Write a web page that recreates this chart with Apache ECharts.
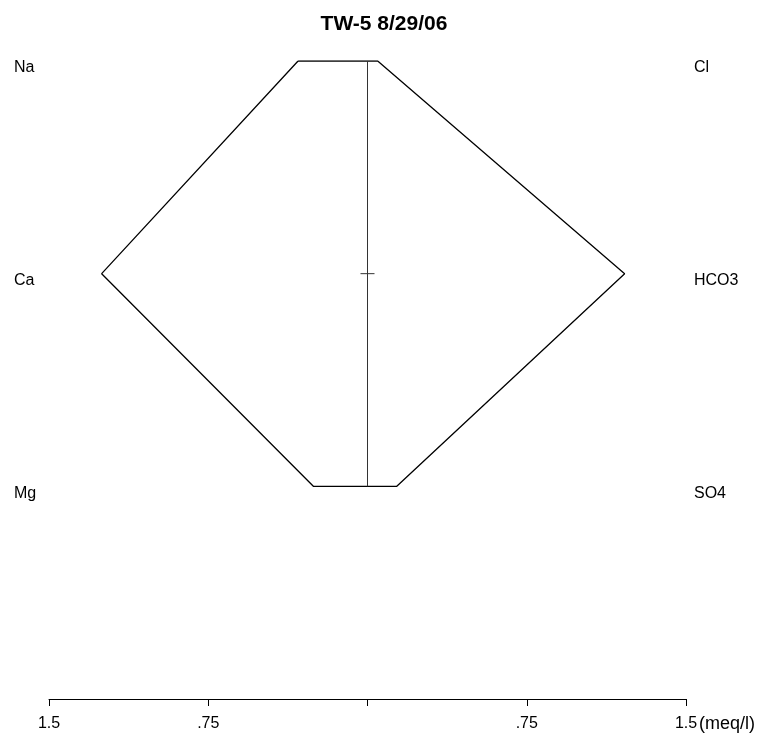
<!DOCTYPE html>
<html>
<head>
<meta charset="utf-8">
<script src="https://cdn.jsdelivr.net/npm/echarts@6/dist/echarts.min.js"></script>
<style>html,body{margin:0;padding:0;background:#fff;}#chart{width:768px;height:736px;}</style>
</head>
<body>
<div id="chart"></div>
<script>
// Stiff diagram data (meq/l)
var cations = ['Na', 'Ca', 'Mg'];
var anions = ['Cl', 'HCO3', 'SO4'];
var cationValues = [0.327, 1.252, 0.255];
var anionValues = [0.048, 1.211, 0.138];
var tickValues = [-1.5, -0.75, 0, 0.75, 1.5];
var tickLabels = ['1.5', '.75', '', '.75', '1.5'];
var unitLabel = '(meq/l)';
var titleText = 'TW-5 8/29/06';

var poly = [];
for (var i = 0; i < cations.length; i++) poly.push([-cationValues[i], i]);
for (var j = anions.length - 1; j >= 0; j--) poly.push([anionValues[j], j]);
poly.push(poly[0]);

var chart = echarts.init(document.getElementById('chart'), null, {renderer: 'canvas'});
var font = 'Liberation Sans, Arial, sans-serif';
chart.setOption({
  animation: false,
  title: {
    text: titleText, left: 'center', top: 9,
    textStyle: {fontFamily: font, fontSize: 21, fontWeight: 'bold', color: '#000'}
  },
  grid: {left: 49, right: 82, top: 61, bottom: 37, containLabel: false},
  xAxis: {
    type: 'value', min: -1.5, max: 1.5, interval: 0.75,
    name: unitLabel, nameLocation: 'end', nameGap: 13, nameMoveOverlap: false,
    nameTextStyle: {fontFamily: font, fontSize: 18, color: '#000', verticalAlign: 'top', padding: [16, 0, 0, 0]},
    axisLine: {show: true, onZero: false, lineStyle: {color: '#000', width: 1}},
    axisTick: {show: true, length: 7, lineStyle: {color: '#000'}},
    axisLabel: {
      margin: 17, fontFamily: font, fontSize: 16, color: '#000',
      formatter: function (v) {
        for (var k = 0; k < tickValues.length; k++) if (Math.abs(tickValues[k] - v) < 1e-6) return tickLabels[k];
        return '';
      }
    },
    splitLine: {show: false}
  },
  yAxis: [{
    type: 'value', inverse: true, min: 0, max: 3, interval: 1, position: 'left',
    axisLine: {show: false}, axisTick: {show: false}, splitLine: {show: false},
    axisLabel: {
      margin: 35, align: 'left', verticalAlign: 'top', lineHeight: 14, fontFamily: font, fontSize: 16, color: '#000',
      formatter: function (v) { return cations[v] || ''; }
    }
  }, {
    type: 'value', inverse: true, min: 0, max: 3, interval: 1, position: 'right',
    axisLine: {show: false}, axisTick: {show: false}, splitLine: {show: false},
    axisLabel: {
      margin: 8, align: 'left', verticalAlign: 'top', lineHeight: 14, fontFamily: font, fontSize: 16, color: '#000',
      formatter: function (v) { return anions[v] || ''; }
    }
  }],
  series: [{
    type: 'line', data: poly, symbol: 'none', silent: true,
    lineStyle: {color: '#000', width: 1.3}
  }, {
    type: 'line', data: [[0, 0], [0, cations.length - 1]], symbol: 'none', silent: true,
    lineStyle: {color: '#333', width: 1}
  }, {
    type: 'line', data: [[-0.033, 1], [0.033, 1]], symbol: 'none', silent: true,
    lineStyle: {color: '#333', width: 1}
  }]
});
</script>
</body>
</html>
